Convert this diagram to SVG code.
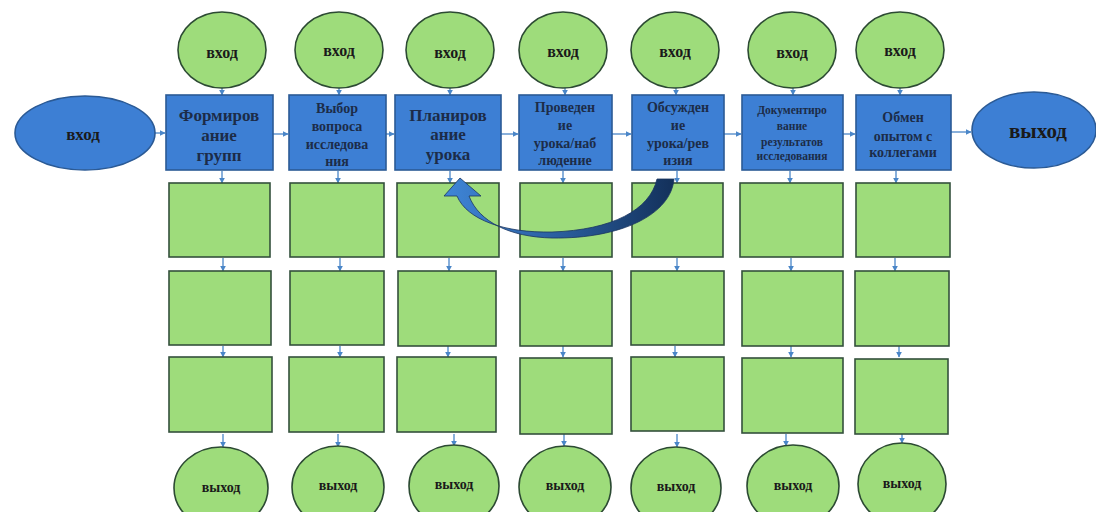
<svg xmlns="http://www.w3.org/2000/svg" width="1096" height="512" viewBox="0 0 1096 512">
<defs>
<style>
.gin{fill:#9edc7b;stroke:#2c4a33;stroke-width:1.6}
.blue{fill:#3d7fd4;stroke:#2b5a95;stroke-width:1.6}
.cell{fill:#9edc7b;stroke:#34503c;stroke-width:1.6}
.t{font-family:"Liberation Serif","DejaVu Serif",serif;font-weight:bold;text-anchor:middle;dominant-baseline:central}
.bt{fill:#1c2c48}
.gt{fill:#1a1a1a}
.c{stroke:#4a86c8;stroke-width:1.3;fill:none;marker-end:url(#ah)}
</style>
<marker id="ah" viewBox="0 0 10 10" refX="9" refY="5" markerWidth="6" markerHeight="6" orient="auto" markerUnits="userSpaceOnUse">
<path d="M0,0 L10,5 L0,10 Z" fill="#4a86c8"/>
</marker>
<linearGradient id="cg" x1="0" y1="0" x2="1" y2="0">
<stop offset="0" stop-color="#3f86d8"/>
<stop offset="0.5" stop-color="#2a5e9e"/>
<stop offset="1" stop-color="#13305a"/>
</linearGradient>
</defs>
<rect width="1096" height="512" fill="#ffffff"/>

<g id="connectors">
<path class="c" d="M155,133 H165"/>
<path class="c" d="M273,134 H288"/>
<path class="c" d="M386,134 H394"/>
<path class="c" d="M501,134 H518"/>
<path class="c" d="M612,134 H631"/>
<path class="c" d="M724,134 H741"/>
<path class="c" d="M843,134 H855"/>
<path class="c" d="M951,132 H971"/>
<path class="c" d="M222,88 V95"/>
<path class="c" d="M339,88 V95"/>
<path class="c" d="M450,88 V95"/>
<path class="c" d="M565,88 V95"/>
<path class="c" d="M676,88 V95"/>
<path class="c" d="M793,88 V95"/>
<path class="c" d="M900,88 V95"/>
<path class="c" d="M222,171 V183"/>
<path class="c" d="M338,171 V183"/>
<path class="c" d="M450,171 V183"/>
<path class="c" d="M563,171 V183"/>
<path class="c" d="M677,171 V183"/>
<path class="c" d="M790,171 V183"/>
<path class="c" d="M896,171 V183"/>
<path class="c" d="M223,258 V271"/>
<path class="c" d="M340,258 V271"/>
<path class="c" d="M449,258 V271"/>
<path class="c" d="M563,258 V271"/>
<path class="c" d="M677,258 V271"/>
<path class="c" d="M791,258 V271"/>
<path class="c" d="M895,258 V271"/>
<path class="c" d="M223,346 V357"/>
<path class="c" d="M340,346 V357"/>
<path class="c" d="M448,346 V357"/>
<path class="c" d="M563,346 V357"/>
<path class="c" d="M675,346 V357"/>
<path class="c" d="M791,346 V357"/>
<path class="c" d="M899,346 V357"/>
<path class="c" d="M223,434 V447"/>
<path class="c" d="M338,434 V447"/>
<path class="c" d="M454,434 V446"/>
<path class="c" d="M564,434 V446"/>
<path class="c" d="M677,434 V447"/>
<path class="c" d="M786,434 V446"/>
<path class="c" d="M902,434 V443"/>
</g>

<g id="in-left"><ellipse cx="85" cy="133" rx="70" ry="37" class="blue"/><text x="83" y="134" class="t gt" font-size="17">вход</text></g>
<g id="out-right"><ellipse cx="1034" cy="130" rx="62" ry="38" class="blue"/><text x="1038" y="131" class="t gt" font-size="21">выход</text></g>

<g id="in1"><ellipse cx="222" cy="50" rx="44" ry="38" class="gin"/><text x="222" y="52" class="t gt" font-size="16">вход</text></g>
<g id="in2"><ellipse cx="339" cy="50" rx="44" ry="38" class="gin"/><text x="339" y="50" class="t gt" font-size="16">вход</text></g>
<g id="in3"><ellipse cx="450" cy="50" rx="44" ry="38" class="gin"/><text x="450" y="52" class="t gt" font-size="16">вход</text></g>
<g id="in4"><ellipse cx="563" cy="50" rx="44" ry="38" class="gin"/><text x="563" y="51" class="t gt" font-size="16">вход</text></g>
<g id="in5"><ellipse cx="675" cy="50" rx="44" ry="38" class="gin"/><text x="675" y="51" class="t gt" font-size="16">вход</text></g>
<g id="in6"><ellipse cx="792" cy="50" rx="44" ry="38" class="gin"/><text x="792" y="52" class="t gt" font-size="16">вход</text></g>
<g id="in7"><ellipse cx="900" cy="50" rx="44" ry="38" class="gin"/><text x="900" y="50" class="t gt" font-size="16">вход</text></g>

<g id="box1"><rect x="166" y="95" width="107" height="75" class="blue"/>
<text class="t bt" font-size="17"><tspan x="219" y="115">Формиров</tspan><tspan x="219" y="135">ание</tspan><tspan x="219" y="155">групп</tspan></text></g>
<g id="box2"><rect x="289" y="95" width="97" height="75" class="blue"/>
<text class="t bt" font-size="14"><tspan x="337" y="108">Выбор</tspan><tspan x="337" y="126">вопроса</tspan><tspan x="337" y="144">исследова</tspan><tspan x="337" y="161">ния</tspan></text></g>
<g id="box3"><rect x="395" y="95" width="106" height="75" class="blue"/>
<text class="t bt" font-size="17"><tspan x="448" y="115">Планиров</tspan><tspan x="448" y="134">ание</tspan><tspan x="448" y="154">урока</tspan></text></g>
<g id="box4"><rect x="519" y="95" width="93" height="75" class="blue"/>
<text class="t bt" font-size="14"><tspan x="565" y="107">Проведен</tspan><tspan x="565" y="125">ие</tspan><tspan x="565" y="143">урока/наб</tspan><tspan x="565" y="160">людение</tspan></text></g>
<g id="box5"><rect x="632" y="95" width="92" height="75" class="blue"/>
<text class="t bt" font-size="14"><tspan x="678" y="107">Обсужден</tspan><tspan x="678" y="125">ие</tspan><tspan x="678" y="143">урока/рев</tspan><tspan x="678" y="160">изия</tspan></text></g>
<g id="box6"><rect x="742" y="95" width="101" height="75" class="blue"/>
<text class="t bt" font-size="11.5"><tspan x="792" y="110">Документиро</tspan><tspan x="792" y="126">вание</tspan><tspan x="792" y="142">результатов</tspan><tspan x="792" y="156">исследования</tspan></text></g>
<g id="box7"><rect x="856" y="95" width="95" height="75" class="blue"/>
<text class="t bt" font-size="14"><tspan x="903" y="117">Обмен</tspan><tspan x="903" y="136">опытом с</tspan><tspan x="903" y="152">коллегами</tspan></text></g>

<g id="row1">
<rect x="169" y="183" width="101" height="74" class="cell"/>
<rect x="290" y="183" width="94" height="74" class="cell"/>
<rect x="397" y="183" width="102" height="74" class="cell"/>
<rect x="520" y="183" width="92" height="74" class="cell"/>
<rect x="632" y="183" width="91" height="74" class="cell"/>
<rect x="740" y="183" width="103" height="74" class="cell"/>
<rect x="856" y="183" width="94" height="74" class="cell"/>
</g>
<g id="row2">
<rect x="169" y="271" width="102" height="74" class="cell"/>
<rect x="290" y="271" width="94" height="74" class="cell"/>
<rect x="398" y="271" width="98" height="75" class="cell"/>
<rect x="520" y="271" width="92" height="75" class="cell"/>
<rect x="631" y="271" width="93" height="74" class="cell"/>
<rect x="742" y="271" width="101" height="75" class="cell"/>
<rect x="855" y="271" width="94" height="75" class="cell"/>
</g>
<g id="row3">
<rect x="169" y="357" width="103" height="75" class="cell"/>
<rect x="289" y="357" width="95" height="75" class="cell"/>
<rect x="397" y="357" width="99" height="75" class="cell"/>
<rect x="520" y="358" width="92" height="76" class="cell"/>
<rect x="631" y="357" width="93" height="74" class="cell"/>
<rect x="742" y="358" width="101" height="75" class="cell"/>
<rect x="855" y="359" width="93" height="75" class="cell"/>
</g>

<g id="out1"><ellipse cx="221" cy="488" rx="47" ry="41" class="gin"/><text x="221" y="487" class="t gt" font-size="14">выход</text></g>
<g id="out2"><ellipse cx="338" cy="487" rx="46" ry="41" class="gin"/><text x="338" y="485" class="t gt" font-size="14">выход</text></g>
<g id="out3"><ellipse cx="454" cy="486" rx="45" ry="41" class="gin"/><text x="454" y="484" class="t gt" font-size="14">выход</text></g>
<g id="out4"><ellipse cx="565" cy="487" rx="46" ry="41" class="gin"/><text x="565" y="485" class="t gt" font-size="14">выход</text></g>
<g id="out5"><ellipse cx="676" cy="488" rx="45" ry="41" class="gin"/><text x="676" y="486" class="t gt" font-size="14">выход</text></g>
<g id="out6"><ellipse cx="793" cy="486" rx="46" ry="41" class="gin"/><text x="793" y="485" class="t gt" font-size="14">выход</text></g>
<g id="out7"><ellipse cx="902" cy="484" rx="44" ry="41" class="gin"/><text x="902" y="483" class="t gt" font-size="14">выход</text></g>

<g id="loop-arrow">
<path d="M657,179 L674,179 C671,214 622,239 552,238 C510,237 479,222 469,196 L481,196 L460,178 L444,196 L457,196 C467,220 505,233 552,232 C612,230 650,210 657,179 Z" fill="url(#cg)" stroke="#1a3560" stroke-width="0.8"/>
</g>
</svg>
